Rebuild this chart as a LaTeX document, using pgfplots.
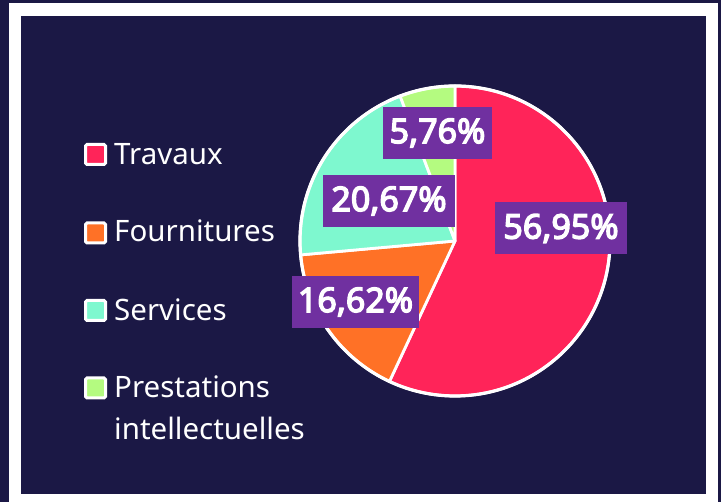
\documentclass[border=0pt]{standalone}
\usepackage{pgfplots}
\pgfplotsset{compat=1.18}
\usepackage{pgfplotstable}
\usepackage{fontspec}
\setmainfont{Noto Sans}
\newfontfamily\labfont{Noto Sans}[AutoFakeBold=4]
\definecolor{bg}{HTML}{1B1845}
\definecolor{cTrav}{HTML}{FF2459}
\definecolor{cFour}{HTML}{FF7126}
\definecolor{cServ}{HTML}{7EF8CF}
\definecolor{cPrest}{HTML}{B4FB80}
\definecolor{lab}{HTML}{7030A0}

\pgfplotstableread[col sep=comma]{
name,value,color,lx,ly,lw
Travaux,56.95,cTrav,561,273.5,132
Fournitures,16.62,cFour,355.5,200,127
Services,20.67,cServ,389,301,132
Prestations,5.76,cPrest,437.5,369,109
}\piedata

\begin{document}
\begin{tikzpicture}
\begin{axis}[
  hide axis, scale only axis,
  width=721pt, height=502pt,
  xmin=0, xmax=721, ymin=0, ymax=502,
  clip=false,
]
% background and frame
\fill[bg] (axis cs:0,0) rectangle (axis cs:721,502);
\fill[white] (axis cs:9,0) rectangle (axis cs:718,499);
\fill[bg] (axis cs:21,8) rectangle (axis cs:706,486);

% pie slices from the data table
\gdef\cumang{90}
\pgfplotsinvokeforeach{0,1,2,3}{
  \pgfplotstablegetelem{#1}{value}\of\piedata
  \pgfmathsetmacro\sweep{3.6*\pgfplotsretval}
  \pgfplotstablegetelem{#1}{color}\of\piedata
  \edef\col{\pgfplotsretval}
  \pgfmathsetmacro\endang{\cumang-\sweep}
  \edef\temp{\noexpand\fill[\col, draw=white, line width=2.8pt, line join=round] (axis cs:455,261) -- ++(\cumang:155pt) arc[start angle=\cumang, end angle=\endang, radius=155pt] -- cycle;}
  \temp
  \xdef\cumang{\endang}
}
\draw[white, line width=3.2pt] (axis cs:455,261) circle[radius=155pt];

% data labels
\pgfplotsinvokeforeach{0,1,2,3}{
  \pgfplotstablegetelem{#1}{value}\of\piedata
  \edef\val{\pgfplotsretval}
  \pgfplotstablegetelem{#1}{lx}\of\piedata
  \edef\lx{\pgfplotsretval}
  \pgfplotstablegetelem{#1}{ly}\of\piedata
  \edef\ly{\pgfplotsretval}
  \pgfplotstablegetelem{#1}{lw}\of\piedata
  \edef\lw{\pgfplotsretval}
  \edef\temp{\noexpand\node[fill=lab, text=white, font=\noexpand\labfont\noexpand\bfseries\noexpand\fontsize{34}{38}\noexpand\selectfont, minimum width=\lw pt, minimum height=52pt, inner sep=0pt] at (axis cs:\lx,\ly) {\noexpand\pgfmathprintnumber[fixed, fixed zerofill, precision=2, use comma, assume math mode=true]{\val}\noexpand\%};}
  \temp
}

% legend
\draw[white, line width=3pt, fill=cTrav, rounded corners=1.5pt] (axis cs:85.5,337.5) rectangle (axis cs:105.5,357.5);
\draw[white, line width=3pt, fill=cFour, rounded corners=1.5pt] (axis cs:85.5,259) rectangle (axis cs:105.5,279);
\draw[white, line width=3pt, fill=cServ, rounded corners=1.5pt] (axis cs:85.5,181.5) rectangle (axis cs:105.5,201.5);
\draw[white, line width=3pt, fill=cPrest, rounded corners=1.5pt] (axis cs:85.5,104) rectangle (axis cs:105.5,124);
\node[anchor=base west, text=white, inner sep=0pt, font=\fontsize{29.5}{34}\selectfont] at (axis cs:114,337) {Travaux};
\node[anchor=base west, text=white, inner sep=0pt, font=\fontsize{29.5}{34}\selectfont] at (axis cs:114,260) {Fournitures};
\node[anchor=base west, text=white, inner sep=0pt, font=\fontsize{29.5}{34}\selectfont] at (axis cs:114,181) {Services};
\node[anchor=base west, text=white, inner sep=0pt, font=\fontsize{29.5}{34}\selectfont] at (axis cs:114,104) {Prestations};
\node[anchor=base west, text=white, inner sep=0pt, font=\fontsize{29.5}{34}\selectfont] at (axis cs:114,62) {intellectuelles};
\end{axis}
\end{tikzpicture}
\end{document}
